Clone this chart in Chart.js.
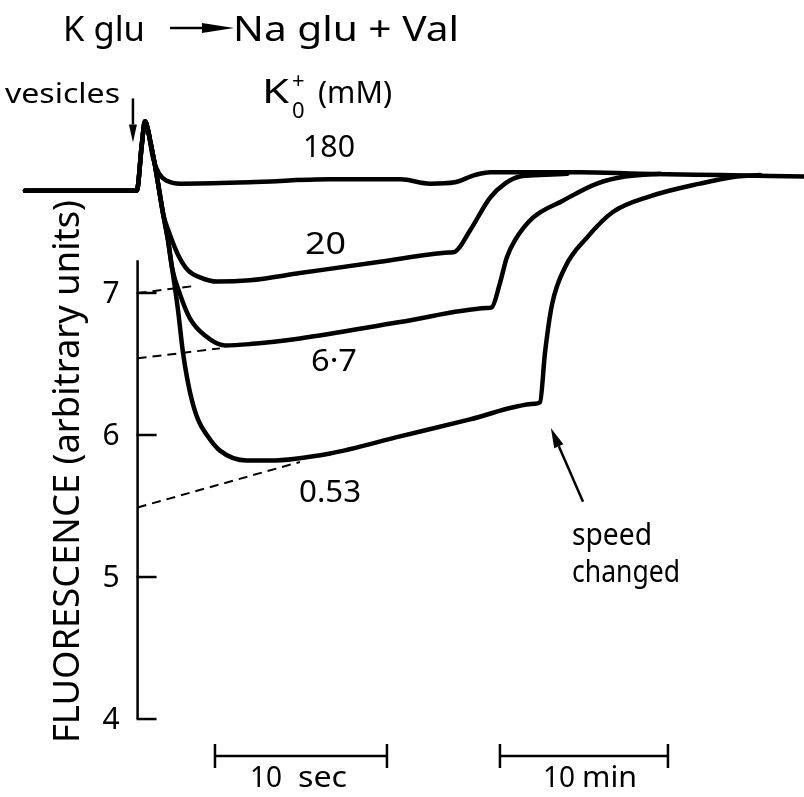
<!DOCTYPE html>
<html>
<head>
<meta charset="utf-8">
<title>Fluorescence traces</title>
<script src="https://cdn.jsdelivr.net/npm/chart.js@4.4.1/dist/chart.umd.min.js"></script>
<style>
  html, body { margin: 0; padding: 0; background: #fff; }
  #wrap { width: 804px; height: 797px; }
</style>
</head>
<body>
<div id="wrap"><canvas id="trace" width="804" height="797"></canvas></div>
<script>
// trace time (chart seconds, vesicles added at 0) and fluorescence readings
const t180 = [-6.55, -0.05, 0.25, 0.43, 0.6, 0.9, 1.25, 1.7, 2.5, 6.5, 11.2, 15.3, 17.0, 18.45, 19.6, 20.5, 22.2, 25.7, 29.2, 33.9, 38.75];
const f180 = [7.72, 7.72, 8.05, 8.21, 8.15, 7.95, 7.84, 7.79, 7.77, 7.78, 7.80, 7.80, 7.77, 7.78, 7.83, 7.85, 7.85, 7.85, 7.84, 7.83, 7.82];

const t20 = [-6.55, -0.05, 0.25, 0.43, 0.6, 0.72, 1.01, 1.3, 1.48, 1.88, 2.35, 2.93, 3.63, 4.62, 6.54, 9.44, 14.1, 18.1, 18.45, 19.33, 20.49, 21.36, 22.23, 23.4, 25.0];
const f20 = [7.72, 7.72, 8.05, 8.21, 8.15, 8.08, 7.90, 7.69, 7.56, 7.41, 7.27, 7.16, 7.11, 7.08, 7.09, 7.14, 7.22, 7.285, 7.29, 7.44, 7.67, 7.77, 7.82, 7.83, 7.84];

const t67 = [-6.55, -0.05, 0.25, 0.43, 0.6, 0.72, 1.01, 1.3, 1.48, 1.77, 2.0, 2.47, 3.05, 3.92, 5.08, 6.53, 9.44, 15.26, 20.3, 20.6, 21.07, 21.47, 21.94, 22.99, 24.73, 26.71, 28.34, 30.37];
const f67 = [7.72, 7.72, 8.05, 8.21, 8.15, 8.08, 7.90, 7.69, 7.56, 7.37, 7.18, 6.99, 6.82, 6.70, 6.63, 6.64, 6.68, 6.795, 6.894, 6.90, 7.07, 7.25, 7.37, 7.53, 7.65, 7.77, 7.82, 7.84];

const t053 = [-6.55, -0.05, 0.25, 0.43, 0.6, 0.72, 1.01, 1.3, 1.48, 1.77, 2.0, 2.35, 2.64, 3.05, 3.51, 4.03, 4.79, 6.36, 7.7, 11.19, 15.26, 19.33, 23.1, 23.4, 23.69, 24.1, 24.85, 26.13, 27.64, 29.79, 32.7, 34.85, 36.2];
const f053 = [7.72, 7.72, 8.05, 8.21, 8.15, 8.08, 7.90, 7.69, 7.56, 7.37, 7.18, 6.88, 6.58, 6.30, 6.11, 6.00, 5.89, 5.82, 5.82, 5.87, 5.99, 6.11, 6.22, 6.23, 6.58, 6.92, 7.18, 7.39, 7.57, 7.68, 7.77, 7.82, 7.83];

// extrapolations of the slow phase back to the time of addition
const tExtrap20 = [0, 3.35];
const fExtrap20 = [7.00, 7.05];
const tExtrap67 = [0, 4.79];
const fExtrap67 = [6.54, 6.61];
const tExtrap053 = [0, 9.44];
const fExtrap053 = [5.49, 5.81];

const curveNames = ['180', '20', '6·7', '0.53'];
const yTicks = [4, 5, 6, 7];
const yAxisTop = 7.23;
const secBar = [4.5, 14.5];
const minBar = [21.07, 30.84];
const barLevel = 3.74;

const FONT = '"Noto Sans", sans-serif';

function pts(ts, fs) {
    return ts.map((t, i) => ({ x: t, y: fs[i] }));
}

function trace(ts, fs) {
    return {
        data: pts(ts, fs),
        borderColor: '#000',
        borderWidth: 4.5,
        pointRadius: 0,
        fill: false,
        cubicInterpolationMode: 'monotone',
        borderCapStyle: 'round',
        borderJoinStyle: 'round'
    };
}

function dashed(ts, fs) {
    return {
        data: pts(ts, fs),
        borderColor: '#000',
        borderWidth: 2,
        borderDash: [9, 6],
        pointRadius: 0,
        fill: false,
        tension: 0
    };
}

// text stretched or squeezed to a given width
function fitText(ctx, text, x, y, w) {
    const natural = ctx.measureText(text).width;
    ctx.save();
    ctx.translate(x, y);
    ctx.scale(w / natural, 1);
    ctx.fillText(text, 0, 0);
    ctx.restore();
}

function arrow(ctx, x1, y1, x2, y2, headLen, headHalf) {
    const ang = Math.atan2(y2 - y1, x2 - x1);
    const bx = x2 - headLen * Math.cos(ang);
    const by = y2 - headLen * Math.sin(ang);
    ctx.beginPath();
    ctx.moveTo(x1, y1);
    ctx.lineTo(bx, by);
    ctx.stroke();
    ctx.beginPath();
    ctx.moveTo(x2, y2);
    ctx.lineTo(bx + headHalf * Math.sin(ang), by - headHalf * Math.cos(ang));
    ctx.lineTo(bx - headHalf * Math.sin(ang), by + headHalf * Math.cos(ang));
    ctx.closePath();
    ctx.fill();
}

const annotate = {
    id: 'annotate',
    afterDatasetsDraw(chart) {
        const { ctx } = chart;
        const xs = chart.scales.x;
        const ys = chart.scales.y;
        ctx.save();
        ctx.strokeStyle = '#000';
        ctx.fillStyle = '#000';
        ctx.lineCap = 'butt';

        // y axis with inward ticks
        const ax = xs.getPixelForValue(0);
        ctx.lineWidth = 2.5;
        ctx.beginPath();
        ctx.moveTo(ax, ys.getPixelForValue(yAxisTop));
        ctx.lineTo(ax, ys.getPixelForValue(yTicks[0]));
        ctx.stroke();
        ctx.font = '30px ' + FONT;
        ctx.textAlign = 'right';
        ctx.textBaseline = 'middle';
        yTicks.forEach(v => {
            const py = ys.getPixelForValue(v);
            ctx.beginPath();
            ctx.moveTo(ax - 1, py);
            ctx.lineTo(ax + 19, py);
            ctx.stroke();
            ctx.fillText(String(v), ax - 18, py + 1);
        });

        ctx.textAlign = 'left';
        ctx.textBaseline = 'alphabetic';

        // axis title
        ctx.save();
        ctx.translate(79, 743);
        ctx.rotate(-Math.PI / 2);
        ctx.font = '36px ' + FONT;
        fitText(ctx, 'FLUORESCENCE (arbitrary units)', 0, 0, 543);
        ctx.restore();

        // time scale bars
        ctx.lineWidth = 2.5;
        const by = ys.getPixelForValue(barLevel);
        [secBar, minBar].forEach(b => {
            const x1 = xs.getPixelForValue(b[0]);
            const x2 = xs.getPixelForValue(b[1]);
            ctx.beginPath();
            ctx.moveTo(x1, by);
            ctx.lineTo(x2, by);
            ctx.moveTo(x1, by - 12);
            ctx.lineTo(x1, by + 12);
            ctx.moveTo(x2, by - 12);
            ctx.lineTo(x2, by + 12);
            ctx.stroke();
        });
        ctx.font = '29px ' + FONT;
        fitText(ctx, '10', 250, 787, 32);
        fitText(ctx, 'sec', 298, 787, 49);
        fitText(ctx, '10', 543, 787, 32);
        fitText(ctx, 'min', 582, 787, 55);

        // curve labels (external K+)
        ctx.font = '31px ' + FONT;
        const labelPos = [[303, 157, 52], [305, 254, 41], [311, 371, 46], [299, 502, 62]];
        curveNames.forEach((n, i) => fitText(ctx, n, labelPos[i][0], labelPos[i][1], labelPos[i][2]));

        // header
        ctx.font = '35px ' + FONT;
        fitText(ctx, 'K glu', 63, 41, 82);
        fitText(ctx, 'Na glu + Val', 233, 41, 226);
        ctx.lineWidth = 2.5;
        arrow(ctx, 170, 28, 234, 28, 32, 5);

        ctx.font = '28px ' + FONT;
        fitText(ctx, 'vesicles', 5, 103, 115);
        ctx.lineWidth = 2.5;
        arrow(ctx, xs.getPixelForValue(-0.27), ys.getPixelForValue(8.37),
            xs.getPixelForValue(-0.27), ys.getPixelForValue(8.06), 18, 4);

        ctx.font = '33px ' + FONT;
        fitText(ctx, 'K', 262, 103, 27);
        ctx.font = '22px ' + FONT;
        ctx.fillText('+', 292, 88);
        ctx.fillText('0', 292, 118);
        ctx.font = '31px ' + FONT;
        fitText(ctx, '(mM)', 318, 103, 74);

        // chart speed change
        ctx.font = '30px ' + FONT;
        fitText(ctx, 'speed', 572, 545, 80);
        fitText(ctx, 'changed', 572, 582, 108);
        ctx.lineWidth = 2.5;
        arrow(ctx, xs.getPixelForValue(25.9), ys.getPixelForValue(5.53),
            xs.getPixelForValue(24.03), ys.getPixelForValue(6.05), 20, 5);

        ctx.restore();
    }
};

new Chart(document.getElementById('trace'), {
    type: 'line',
    data: {
        datasets: [
            trace(t180, f180),
            trace(t20, f20),
            trace(t67, f67),
            trace(t053, f053),
            dashed(tExtrap20, fExtrap20),
            dashed(tExtrap67, fExtrap67),
            dashed(tExtrap053, fExtrap053)
        ]
    },
    options: {
        responsive: false,
        animation: false,
        clip: false,
        layout: { padding: 0 },
        plugins: {
            legend: { display: false },
            tooltip: { enabled: false }
        },
        scales: {
            x: { type: 'linear', min: -8, max: 38.75, display: false },
            y: { type: 'linear', min: 3.451, max: 9.063, display: false }
        }
    },
    plugins: [annotate]
});
</script>
</body>
</html>
